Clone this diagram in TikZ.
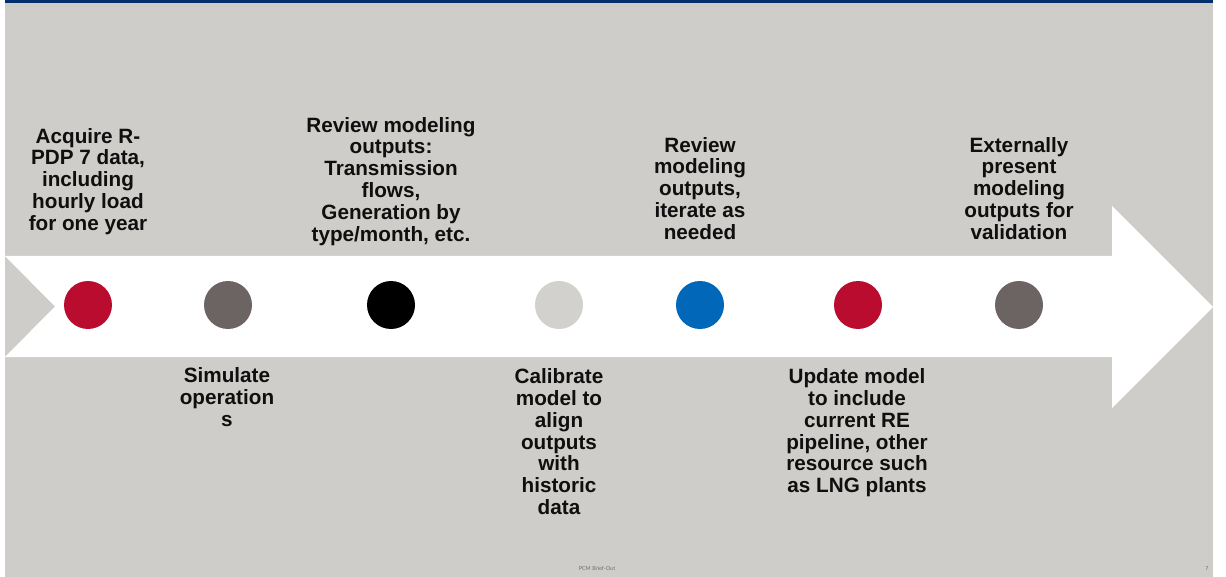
\documentclass[tikz,border=0pt]{standalone}
\usepackage{fontspec}
\setmainfont{Liberation Sans}
\newfontfamily\footfont{Lato}
\definecolor{bg}{RGB}{207,205,201}
\definecolor{topbar}{RGB}{0,47,108}
\definecolor{cred}{RGB}{186,12,47}
\definecolor{cgray}{RGB}{108,100,99}
\definecolor{clight}{RGB}{211,209,205}
\definecolor{cblue}{RGB}{0,103,185}
\definecolor{txt}{RGB}{15,15,15}
\definecolor{foot}{RGB}{110,110,110}
\begin{document}
\begin{tikzpicture}[x=1pt,y=-1pt,
  lbl/.style={align=center,inner sep=0pt,anchor=north,text=txt,
    font=\fontsize{20.7}{21.8}\selectfont\bfseries},
  dot/.style={circle,minimum size=48pt,inner sep=0pt},
  foottext/.style={inner sep=0pt,text=foot,font=\footfont\fontsize{5.5}{6}\selectfont}]
\useasboundingbox (0,0) rectangle (1226,577);
\fill[white] (0,0) rectangle (1226,577);
\fill[bg] (5,0) rectangle (1213,577);
\fill[topbar] (5,0) rectangle (1213,3.5);
\fill[white] (5,256) -- (1112,256) -- (1112,206) -- (1213,307) -- (1112,408)
  -- (1112,357) -- (5,357) -- (55,306.5) -- cycle;
\node[dot,fill=cred]   (c1) at (88,305) {};
\node[dot,fill=cgray]  (c2) at (228,305) {};
\node[dot,fill=black]  (c3) at (391,305) {};
\node[dot,fill=clight] (c4) at (559,305) {};
\node[dot,fill=cblue]  (c5) at (700,305) {};
\node[dot,fill=cred]   (c6) at (858,305) {};
\node[dot,fill=cgray]  (c7) at (1019,305) {};
\node[lbl] (t1) at (88,128) {Acquire R-\\PDP 7 data,\\including\\hourly load\\for one year};
\node[lbl] (t2) at (227,367.5) {Simulate\\operation\\s};
\node[lbl] (t3) at (391,117) {Review modeling\\outputs:\\Transmission\\flows,\\Generation by\\type/month, etc.};
\node[lbl] (t4) at (559,368.5) {Calibrate\\model to\\align\\outputs\\with\\historic\\data};
\node[lbl] (t5) at (700,137) {Review\\modeling\\outputs,\\iterate as\\needed};
\node[lbl] (t6) at (857,368.5) {Update model\\to include\\current RE\\pipeline, other\\resource such\\as LNG plants};
\node[lbl] (t7) at (1019,137) {Externally\\present\\modeling\\outputs for\\validation};
\node[foottext] (f1) at (597,569) {PCM Brief-Out};
\node[foottext] (f2) at (1207,569) {7};
\end{tikzpicture}
\end{document}
